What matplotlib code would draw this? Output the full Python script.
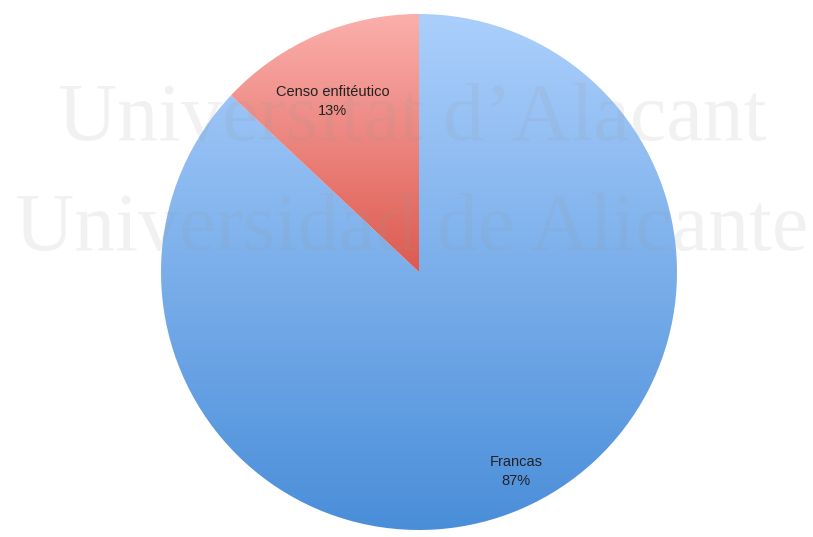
import matplotlib.pyplot as plt
import numpy as np
from matplotlib.colors import LinearSegmentedColormap

labels = ['Francas', 'Censo enfitéutico']
values = [87, 13]
top_colors = ['#abcffc', '#fbafac']
bottom_colors = ['#4a8ed9', '#dc5a50']
watermark = ['Universitat d\u2019Alacant', 'Universidad de Alicante']

# label placement (radius fraction, angle nudge in degrees)
label_dist = [0.86, 0.74]
label_nudge = [2.5, 3.5]

fig = plt.figure(figsize=(8.13, 5.37), dpi=100)
ax = fig.add_axes([0, 0, 1, 1])

# Censo goes counter-clockwise from the top, Francas takes the rest
wedges, _ = ax.pie(values, startangle=90 - values[0] / sum(values) * 360,
                   counterclock=True, radius=1, colors=['none', 'none'],
                   wedgeprops=dict(linewidth=0))

for w, c_top, c_bot in zip(wedges, top_colors, bottom_colors):
    ext = w.get_path().get_extents(w.get_patch_transform())
    cmap = LinearSegmentedColormap.from_list('g', [c_bot, c_top])
    grad = np.linspace(0, 1, 256).reshape(-1, 1)
    im = ax.imshow(grad, cmap=cmap, origin='lower', aspect='auto',
                   extent=[ext.x0, ext.x1, ext.y0, ext.y1], zorder=1)
    im.set_clip_path(w)

for w, lab, v, d, nd in zip(wedges, labels, values, label_dist, label_nudge):
    mid = np.deg2rad((w.theta1 + w.theta2) / 2 + nd)
    ax.text(d * np.cos(mid), d * np.sin(mid), f'{lab}\n{v}%',
            ha='center', va='center', fontsize=10.5, family='Liberation Sans',
            color='#222222', linespacing=1.5, zorder=3)

# watermark
ax.text(-0.027, 0.512, watermark[0], ha='center', va='baseline',
        family='Liberation Serif', fontsize=59, color='#999999', alpha=0.13,
        zorder=2)
ax.text(-0.027, 0.085, watermark[1], ha='center', va='baseline',
        family='Liberation Serif', fontsize=59, color='#999999', alpha=0.13,
        zorder=2)

ax.set_xlim(-419 / 258, (813 - 419) / 258)
ax.set_ylim(-(537 - 272) / 258, 272 / 258)
ax.set_aspect('equal', adjustable='datalim')
ax.axis('off')

fig.savefig('out.png', dpi=100)
